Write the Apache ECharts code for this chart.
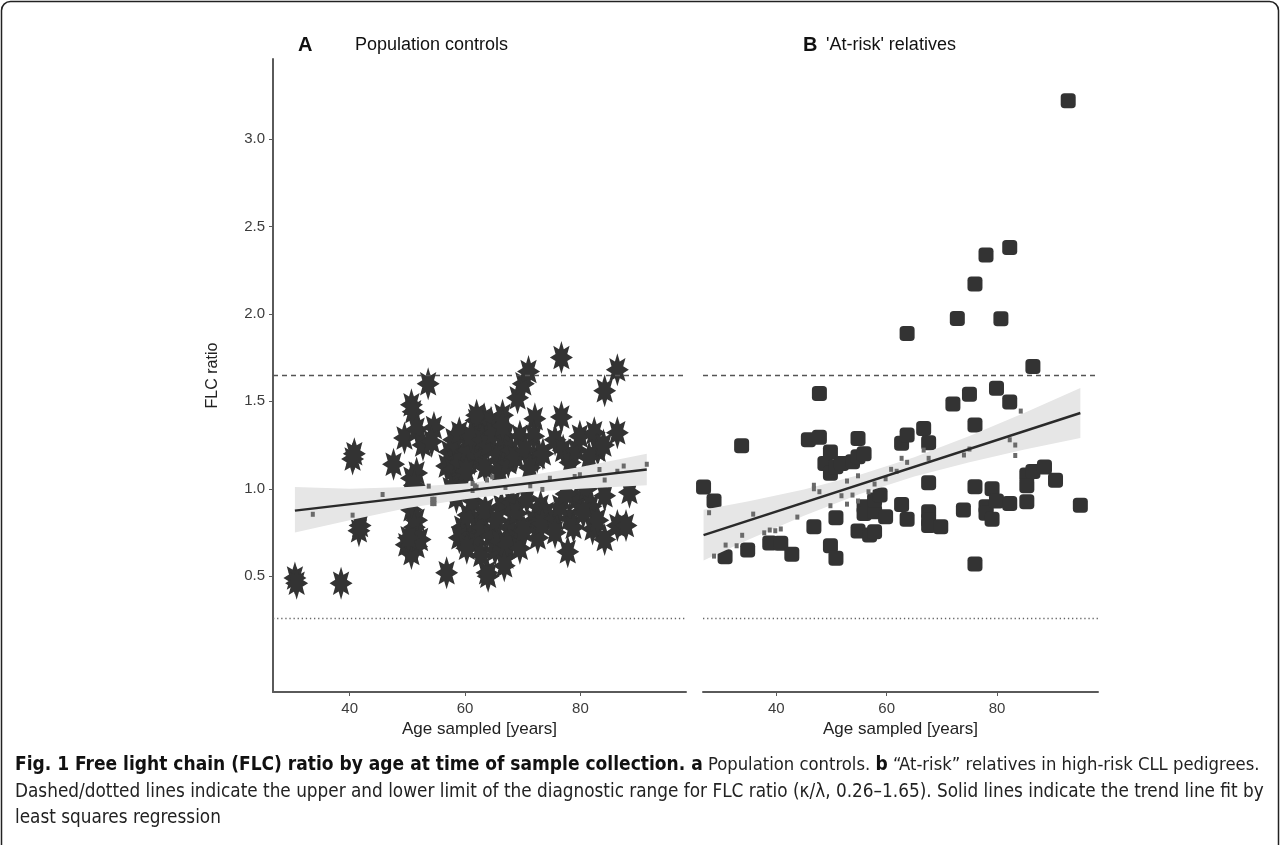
<!DOCTYPE html>
<html><head><meta charset="utf-8">
<script src="https://cdn.jsdelivr.net/npm/echarts@6/dist/echarts.min.js"></script>
<style>html,body{margin:0;padding:0;background:#fff}#c{width:1281px;height:845px}</style>
</head><body><div id="c"></div>
<script>
// ---------- data ----------
const xTicks = [40, 60, 80];
const yTicks = [0.5, 1.0, 1.5, 2.0, 2.5, 3.0];
const xRange = [26.7, 98.3];
const yRange = [-0.162, 3.457];
const upperLimit = 1.65;
const lowerLimit = 0.26;
const panelTitles = ['Population controls', "'At-risk' relatives"];
const panelLetters = ['A', 'B'];

// Panel A: population controls (age, FLC ratio)
const popPoints = [
  [30.5,0.49],[30.8,0.46],[38.5,0.46],[40.5,1.17],[40.8,1.2],[41.6,0.76],[41.8,0.79],[47.6,1.14],
  [49.5,1.29],[50.7,1.48],[51,1.44],[51.6,1.34],[52.7,1.25],[53.6,1.6],[54.6,1.35],[54.2,1.27],
  [50.7,1.06],[51.6,1.09],[51.2,1.02],[50.7,0.88],[51.6,0.82],[51.2,0.78],[49.8,0.68],[51.6,0.67],
  [50.7,0.63],[52.2,0.71],[50.2,0.72],
  [56.8,0.52],[57.3,1.21],[58.5,1.2],[56.8,1.13],[57.9,1.11],[59.1,1.15],[58,1.28],[59,1.32],
  [59.5,1.06],[57.5,1.0],[58.5,0.95],[59.5,0.78],[59,0.72],
  [61.9,1.39],[61.6,1.17],[62.2,1.34],[61.3,0.74],[62.4,0.82],[64,0.5],[63.3,1.4],[62,1.42],
  [64.5,1.38],[62.7,1.2],[60.5,1.22],[60.2,1.1],[61,1.3],[63,1.28],[63.5,1.12],[64,1.25],
  [60.5,0.85],[61.4,0.93],[62,0.69],[63,0.78],[63.8,0.52],[64.5,0.73],[63.5,0.88],[60.3,0.66],[62.8,0.62],
  [65.7,1.2],[65,1.32],[66,1.1],[66.5,1.42],[67,1.3],[67.5,1.15],[68,1.22],[68.8,1.18],[66.5,1.36],
  [69.1,1.52],[69.5,1.3],[65.2,0.65],[66.3,0.9],[67,0.61],[67.7,0.78],[68.8,0.71],[65.5,0.82],
  [66,0.7],[67.2,0.68],[68.2,0.92],[69,0.86],[66.8,0.56],[69.5,0.66],
  [70.1,1.6],[71,1.67],[72.1,1.4],[71.9,1.3],[72.5,1.18],[70.5,1.22],[71.2,1.12],[73.5,1.2],
  [70.7,0.94],[71.9,0.82],[73.1,0.9],[70.2,0.76],[72.6,0.72],[74,0.86],[73.4,0.8],
  [76.7,1.75],[76.7,1.41],[75.6,1.28],[77,1.22],[78.2,1.15],[79.3,1.22],[79.9,1.3],[75.6,0.83],
  [75.6,0.75],[77.8,0.64],[78.1,0.83],[79.3,0.94],[76.5,0.9],[77.5,0.97],[78.8,0.78],
  [81.1,1.0],[82.4,1.32],[83,1.22],[81.5,1.18],[84.2,1.56],[86.4,1.68],[86.4,1.32],[84,1.25],
  [82.1,0.77],[81.8,0.9],[84.2,0.96],[84.2,0.71],[86.4,0.79],[87.9,0.79],[88.5,0.98],[80.5,0.86],[83,0.82]
];
const popSmall = [
  [33.6,0.854],[40.5,0.849],[45.7,0.967],[53.7,1.015],[54.3,0.94],[54.7,0.94],[54.3,0.915],[54.7,0.915],
  [61.3,1.03],[61.3,0.99],[62,1.01],[61.7,1.017],[63.8,1.05],[64.7,1.068],[67,1.007],[71.3,1.017],
  [73.4,0.996],[74.7,1.06],[79,1.07],[79.9,1.08],[83.3,1.11],[84.2,1.05],[86.4,1.1],[87.5,1.13],[91.5,1.14]
];
const popTrend = [[30.5,0.875],[91.5,1.11]];
const popBandAge = [30.5, 40, 50, 60, 70, 80, 91.5];
const popBandLow = [0.75, 0.82, 0.89, 0.94, 0.98, 1.0, 1.02];
const popBandHigh = [1.01, 1.0, 1.01, 1.03, 1.07, 1.125, 1.2];

// Panel B: at-risk relatives
const relPoints = [
  [26.8,1.01],[28.7,0.93],[33.7,1.246],[47.8,1.545],[30.7,0.611],[34.8,0.65],[38.8,0.69],[40.8,0.688],
  [42.8,0.625],[45.8,1.28],[47.8,1.294],[46.8,0.783],[49.8,1.21],[48.8,1.145],[49.8,1.088],[50.8,1.126],
  [51.8,1.145],[53.8,1.154],[54.8,1.288],[54.8,1.183],[55.9,1.2],[50.8,0.834],[49.8,0.674],[50.8,0.602],
  [54.8,0.758],[55.9,0.897],[55.9,0.859],[56.9,0.735],[57.8,0.754],[57.8,0.868],[57.8,0.935],[58.8,0.964],
  [59.8,0.84],[62.7,1.26],[63.7,1.307],[62.7,0.91],[63.7,0.825],[66.7,1.345],[67.6,1.263],[67.6,1.034],
  [67.6,0.868],[67.6,0.82],[67.6,0.79],[69.8,0.783],[72,1.484],[75,1.54],[76,1.364],[73.9,0.878],
  [76,1.011],[76,0.57],[78,0.897],[78,0.86],[79.1,1.0],[79.9,0.93],[79.1,0.826],[79.9,1.575],
  [63.7,1.888],[72.8,1.974],[76,2.17],[78,2.336],[80.7,1.972],[92.9,3.219],[82.3,2.38],[86.5,1.699],
  [82.3,1.496],[82.3,0.915],[85.4,1.078],[86.5,1.098],[88.6,1.125],[90.6,1.048],[85.4,1.017],[85.4,0.926],[95.1,0.905]
];
const relSmall = [
  [27.8,0.863],[28.7,0.615],[30.8,0.678],[32.8,0.674],[33.8,0.734],[35.8,0.855],[37.8,0.748],[38.8,0.764],
  [39.8,0.76],[40.8,0.77],[43.8,0.838],[46.8,1.0],[46.8,1.02],[47.8,0.983],[49.8,0.903],[51.8,0.96],
  [52.8,1.044],[52.8,0.912],[53.8,0.964],[54.8,1.074],[54.8,0.93],[56.7,0.983],[57.8,1.027],[59.8,1.057],
  [60.8,1.111],[61.8,1.1],[62.7,1.174],[63.7,1.151],[66.7,1.221],[67.6,1.174],[74,1.193],[75,1.227],
  [84.3,1.444],[82.3,1.28],[83.3,1.25],[83.3,1.19]
];
const relTrend = [[26.8,0.735],[95.1,1.433]];
const relBandAge = [26.8, 35, 45, 55, 65, 75, 85, 95.1];
const relBandLow = [0.59, 0.71, 0.846, 0.968, 1.07, 1.152, 1.224, 1.29];
const relBandHigh = [0.88, 0.929, 0.996, 1.078, 1.18, 1.302, 1.434, 1.576];

// ---------- chart ----------
const FONT = '"Liberation Sans", Arial, Helvetica, sans-serif';
const CAPFONT = '"DejaVu Sans Condensed", "Liberation Sans", sans-serif';
const AXIS_COLOR = '#5a5a5a';
const STAR = 'path://M100,0 L121,49 L171,29 L151,79 L200,100 L151,121 L171,171 L121,151 L100,200 L79,151 L29,171 L49,121 L0,100 L49,79 L29,29 L79,49 Z';

const grids = [
  {left: 273, top: 59, width: 413, height: 633},
  {left: 703, top: 59, width: 395, height: 633}
];

function xAxisCfg(gi) {
  return {
    type: 'value', gridIndex: gi, min: xRange[0], max: xRange[1],
    name: 'Age sampled [years]', nameLocation: 'middle', nameGap: 28,
    nameTextStyle: {fontFamily: FONT, fontSize: 17, color: '#222'},
    axisLine: {show: true, onZero: false, lineStyle: {color: AXIS_COLOR, width: 2}},
    axisTick: {show: true, length: 4, customValues: xTicks, lineStyle: {color: AXIS_COLOR, width: 1}},
    axisLabel: {customValues: xTicks, fontFamily: FONT, fontSize: 15, color: '#3c3c3c', margin: 9},
    splitLine: {show: false}
  };
}
function yAxisCfg(gi) {
  const show = gi === 0;
  return {
    type: 'value', gridIndex: gi, min: yRange[0], max: yRange[1],
    name: show ? 'FLC ratio' : '', nameLocation: 'middle', nameGap: 52, nameRotate: 90,
    nameTextStyle: {fontFamily: FONT, fontSize: 16, color: '#222'},
    axisLine: {show: show, onZero: false, lineStyle: {color: AXIS_COLOR, width: 2}},
    axisTick: {show: show, length: 4, customValues: yTicks, lineStyle: {color: AXIS_COLOR, width: 1}},
    axisLabel: {show: show, customValues: yTicks, fontFamily: FONT, fontSize: 15, color: '#3c3c3c', margin: 8,
      formatter: v => v.toFixed(1)},
    splitLine: {show: false}
  };
}
function limitSeries(gi) {
  return {
    type: 'line', xAxisIndex: gi, yAxisIndex: gi, data: [], z: 1, silent: true,
    markLine: {
      silent: true, symbol: 'none', label: {show: false}, animation: false,
      data: [
        {yAxis: upperLimit, lineStyle: {color: '#555', width: 1.3, type: [5, 4]}},
        {yAxis: lowerLimit, lineStyle: {color: '#666', width: 1.3, type: [1.3, 2.8]}}
      ]
    }
  };
}
function bandSeries(gi, ages, lo, hi) {
  const rows = ages.map((a, i) => [a, lo[i], hi[i]]);
  return {
    type: 'custom', xAxisIndex: gi, yAxisIndex: gi, z: 3, silent: true, clip: true,
    data: rows, encode: {x: 0, y: [1, 2]},
    renderItem(params, api) {
      if (params.dataIndex !== 0) return null;
      const pts = [];
      rows.forEach(r => pts.push(api.coord([r[0], r[2]])));
      for (let i = rows.length - 1; i >= 0; i--) pts.push(api.coord([rows[i][0], rows[i][1]]));
      return {type: 'polygon', shape: {points: pts}, style: {fill: '#e6e6e6'}};
    }
  };
}
function smallSeries(gi, data) {
  return {type: 'scatter', xAxisIndex: gi, yAxisIndex: gi, data, z: 4, silent: true,
    symbol: 'rect', symbolSize: [4, 5], itemStyle: {color: '#6a6a6a', opacity: 1}};
}
function trendSeries(gi, data) {
  return {type: 'line', xAxisIndex: gi, yAxisIndex: gi, data, z: 5, silent: true,
    showSymbol: false, symbol: 'none', lineStyle: {color: '#2a2a2a', width: 2.5}};
}

const captionLine1 = '{b|Fig. 1 Free light chain (FLC) ratio by age at time of sample collection. a} Population controls. {b|b} \u201cAt-risk\u201d relatives in high-risk CLL pedigrees.';
const captionLine2 = 'Dashed/dotted lines indicate the upper and lower limit of the diagnostic range for FLC ratio (\u03ba/\u03bb, 0.26\u20131.65). Solid lines indicate the trend line fit by';
const captionLine3 = 'least squares regression';

const option = {
  animation: false,
  backgroundColor: '#fff',
  grid: grids,
  xAxis: [xAxisCfg(0), xAxisCfg(1)],
  yAxis: [yAxisCfg(0), yAxisCfg(1)],
  series: [
    limitSeries(0), limitSeries(1),
    {type: 'scatter', xAxisIndex: 0, yAxisIndex: 0, data: popPoints, z: 2, symbol: STAR,
      symbolSize: [23, 33], itemStyle: {color: '#333333', opacity: 1}},
    {type: 'scatter', xAxisIndex: 1, yAxisIndex: 1, data: relPoints, z: 2, symbol: 'roundRect',
      symbolSize: 15, itemStyle: {color: '#333333', opacity: 1}},
    bandSeries(0, popBandAge, popBandLow, popBandHigh),
    bandSeries(1, relBandAge, relBandLow, relBandHigh),
    smallSeries(0, popSmall), smallSeries(1, relSmall),
    trendSeries(0, popTrend), trendSeries(1, relTrend)
  ],
  graphic: [
    {type: 'rect', z: 100, shape: {x: 1.5, y: 1.5, width: 1277, height: 900, r: 9},
      style: {fill: null, stroke: '#222', lineWidth: 1.5}},
    {type: 'text', x: 298, y: 45, style: {text: panelLetters[0], font: 'bold 20px ' + FONT, fill: '#111', align: 'left', verticalAlign: 'middle'}},
    {type: 'text', x: 355, y: 45, style: {text: panelTitles[0], font: '18px ' + FONT, fill: '#111', align: 'left', verticalAlign: 'middle'}},
    {type: 'text', x: 803, y: 45, style: {text: panelLetters[1], font: 'bold 20px ' + FONT, fill: '#111', align: 'left', verticalAlign: 'middle'}},
    {type: 'text', x: 826, y: 45, style: {text: panelTitles[1], font: '18px ' + FONT, fill: '#111', align: 'left', verticalAlign: 'middle'}},
    {type: 'text', x: 15, y: 765, style: {text: captionLine1, fontFamily: CAPFONT, fontSize: 18.3, fill: '#222',
      align: 'left', verticalAlign: 'middle',
      rich: {b: {fontFamily: CAPFONT, fontSize: 19, fontWeight: 'bold', fill: '#111'}}}},
    {type: 'text', x: 15, y: 792, style: {text: captionLine2, fontFamily: CAPFONT, fontSize: 18.8, fill: '#222', align: 'left', verticalAlign: 'middle'}},
    {type: 'text', x: 15, y: 818, style: {text: captionLine3, fontFamily: CAPFONT, fontSize: 18.8, fill: '#222', align: 'left', verticalAlign: 'middle'}}
  ]
};
const chart = echarts.init(document.getElementById('c'));
chart.setOption(option);
</script>
</body></html>
